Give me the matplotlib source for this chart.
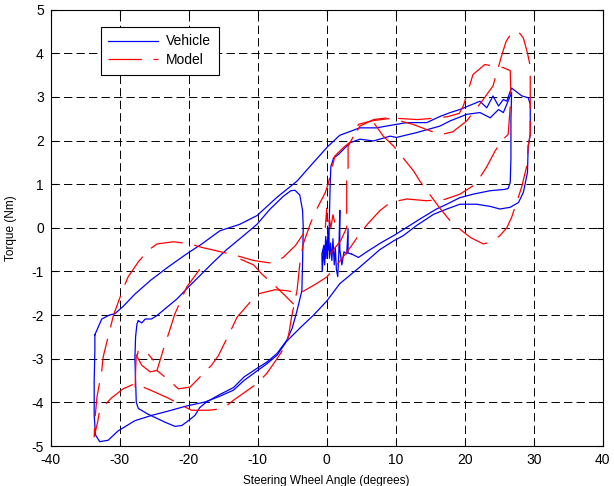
import matplotlib
matplotlib.use("Agg")
import matplotlib.pyplot as plt

plt.rcParams['font.family'] = ['Liberation Sans', 'DejaVu Sans']
plt.rcParams['lines.scale_dashes'] = False

# Vehicle (measured) - pieces of the trace, (angle deg, torque Nm)
veh_outer = [(-33.6, -2.45), (-32.6, -2.09), (-31.5, -2.0), (-30.7, -1.97), (-29.5, -1.8),
             (-27.8, -1.52), (-25.5, -1.2), (-23.0, -0.9), (-20.5, -0.62), (-18.1, -0.37),
             (-15.5, -0.07), (-12.6, 0.08), (-10.1, 0.28), (-7.2, 0.7), (-4.3, 1.07),
             (-1.9, 1.5), (0.2, 1.87), (1.9, 2.12), (4.8, 2.29), (7.2, 2.29), (10.1, 2.37),
             (11.6, 2.41), (14.5, 2.41), (16.4, 2.55), (17.9, 2.64), (19.3, 2.71), (22.2, 2.9),
             (23.2, 2.75), (24.1, 3.02), (24.9, 2.79), (25.6, 2.94), (26.1, 2.9), (26.6, 3.13),
             (26.8, 3.2), (28.3, 3.02), (29.2, 2.98), (29.5, 2.83), (29.5, 2.14), (29.2, 1.87),
             (29.1, 1.27), (28.5, 0.81), (27.8, 0.58), (26.6, 0.47), (25.1, 0.43), (23.7, 0.49),
             (21.7, 0.54), (19.3, 0.54), (17.4, 0.43), (15.5, 0.31), (13.0, 0.05), (11.1, -0.18),
             (9.7, -0.3), (7.7, -0.5), (4.8, -0.9), (1.9, -1.28), (0.0, -1.68), (-1.9, -2.0),
             (-3.9, -2.3), (-5.8, -2.6), (-7.2, -2.92), (-8.7, -3.12), (-10.1, -3.28),
             (-12.0, -3.5), (-13.5, -3.72), (-15.5, -3.86), (-17.6, -3.99), (-20.5, -4.09),
             (-22.5, -4.18), (-25.4, -4.3), (-27.8, -4.42), (-30.2, -4.65), (-31.7, -4.87),
             (-32.9, -4.9), (-33.5, -4.75), (-33.7, -4.3), (-33.7, -3.5), (-33.6, -2.8),
             (-33.6, -2.45)]

veh_inner_left = [(-27.3, -2.13), (-26.8, -2.18), (-26.3, -2.09), (-25.4, -2.09), (-24.6, -2.01),
                  (-23.0, -1.8), (-21.7, -1.63), (-20.0, -1.35), (-18.4, -1.1), (-16.5, -0.8),
                  (-14.5, -0.5), (-12.2, -0.2), (-10.1, 0.08), (-8.2, 0.43), (-6.3, 0.72),
                  (-5.2, 0.85), (-4.6, 0.86), (-3.9, 0.75), (-3.5, 0.4), (-3.4, 0.0),
                  (-3.5, -0.8), (-3.6, -1.44), (-4.3, -1.9), (-5.0, -2.3), (-5.8, -2.58),
                  (-7.2, -2.88), (-8.7, -3.08), (-10.1, -3.22), (-12.0, -3.42), (-13.5, -3.66),
                  (-15.5, -3.82), (-17.5, -4.0), (-18.4, -4.12), (-19.1, -4.3), (-20.3, -4.45),
                  (-21.0, -4.53), (-22.0, -4.55), (-23.5, -4.45), (-25.9, -4.27), (-27.3, -4.14),
                  (-27.6, -4.0), (-27.7, -3.5), (-27.8, -3.0), (-27.7, -2.5), (-27.5, -2.2),
                  (-27.3, -2.13)]

veh_inner_right = [(0.3, -0.5), (0.4, 0.3), (0.5, 1.0), (0.6, 1.4), (1.0, 1.6), (1.7, 1.68),
                   (3.4, 1.95), (4.8, 2.03), (6.8, 1.99), (9.2, 2.1), (10.1, 2.07), (13.0, 2.18),
                   (16.4, 2.33), (17.9, 2.45), (20.3, 2.6), (22.2, 2.64), (23.7, 2.52),
                   (24.9, 2.71), (25.6, 2.64), (26.1, 2.83), (26.8, 3.1), (26.7, 2.5),
                   (26.7, 1.6), (26.6, 1.04), (26.3, 0.9), (25.8, 0.88), (23.7, 0.85),
                   (21.2, 0.77), (19.3, 0.69), (17.4, 0.54), (15.9, 0.43), (13.5, 0.2),
                   (11.6, 0.01), (9.7, -0.18), (8.0, -0.33), (6.0, -0.53), (4.6, -0.68),
                   (3.6, -0.6)]

veh_noise = [(3.6, -0.6), (3.1, -0.58), (3.1, -0.02), (2.9, -0.6), (2.5, -0.55), (2.2, -0.85),
             (1.9, -0.5), (1.9, 0.4), (1.75, -0.6), (1.6, -1.12), (1.4, -0.95), (1.25, -0.45),
             (1.1, -0.85), (0.9, -0.25), (0.75, -0.75), (0.55, -0.35), (0.4, -0.7), (0.2, 0.0),
             (0.05, -0.55), (-0.15, -0.2), (-0.3, -0.85), (-0.45, -0.5), (-0.65, -1.0),
             (-0.7, -0.6), (-0.4, -0.4), (-0.1, -0.7), (0.1, -0.3), (0.3, -0.5)]

# Model (simulated)
mod_outer = [(-3.4, -0.14), (-4.5, -0.4), (-6.3, -0.68), (-8.0, -0.81), (-10.6, -0.75),
             (-13.0, -0.64), (-15.9, -0.53), (-18.1, -0.45), (-19.8, -0.37), (-22.2, -0.32),
             (-24.6, -0.37), (-25.9, -0.52), (-27.3, -0.78), (-28.8, -1.13), (-29.5, -1.4),
             (-30.9, -2.0), (-31.4, -2.32), (-32.4, -2.96), (-32.6, -3.27), (-33.3, -3.88),
             (-33.6, -4.41), (-33.7, -4.79), (-33.2, -4.45), (-32.9, -4.18), (-31.2, -3.9),
             (-29.5, -3.69), (-27.8, -3.57), (-25.4, -3.73), (-23.0, -3.9), (-21.0, -4.07),
             (-19.6, -4.18), (-17.0, -4.18), (-15.0, -4.14), (-13.5, -3.95), (-11.7, -3.75),
             (-10.1, -3.57), (-8.7, -3.34), (-7.2, -3.0), (-5.8, -2.66), (-5.4, -2.35),
             (-5.1, -2.05), (-4.3, -1.44), (-3.9, -0.83), (-3.4, -0.37), (-2.4, 0.08),
             (-1.7, 0.35), (-0.2, 0.81), (0.2, 1.0), (1.2, 1.65), (2.5, 1.85), (3.6, 1.99),
             (4.8, 2.33), (6.8, 2.48), (8.9, 2.52), (11.0, 2.5), (13.2, 2.48), (16.4, 2.52),
             (17.6, 2.55), (19.2, 2.62), (19.8, 2.79), (20.5, 3.15), (21.2, 3.51), (22.9, 3.74),
             (25.6, 3.67), (26.6, 3.6), (26.7, 3.0), (26.3, 2.14), (25.4, 2.0), (24.4, 1.76),
             (23.2, 1.4), (22.2, 1.15), (21.2, 0.96), (19.3, 0.77), (17.1, 0.65), (14.5, 0.62),
             (11.6, 0.66), (9.2, 0.58), (7.7, 0.39), (6.0, 0.1), (4.6, -0.18), (3.6, -0.41),
             (1.4, -0.87), (0.0, -1.13), (-1.7, -1.3), (-3.9, -1.5), (-5.8, -1.44),
             (-7.5, -1.42), (-10.1, -1.52), (-13.0, -2.05), (-13.8, -2.32), (-15.7, -2.93),
             (-16.7, -3.15), (-19.8, -3.65), (-21.5, -3.69), (-23.2, -3.45), (-24.6, -3.27),
             (-23.7, -2.8), (-22.7, -2.32), (-22.0, -1.97), (-20.3, -1.36), (-18.4, -0.95)]

mod_right = [(0.5, -0.6), (2.0, -0.3), (2.9, 0.0), (2.9, 0.39), (2.9, 1.07), (3.1, 1.34),
             (3.1, 1.87), (3.9, 2.1), (4.6, 2.37), (6.5, 2.45), (8.9, 2.5), (10.6, 2.45),
             (12.5, 2.37), (15.0, 2.22), (16.7, 2.14), (18.3, 2.2), (20.3, 2.45), (22.5, 2.9),
             (24.1, 3.25), (25.4, 3.97), (26.0, 4.27), (26.8, 4.47), (27.8, 4.49), (28.5, 4.35),
             (29.1, 4.0), (29.5, 3.7), (29.5, 3.13), (29.5, 2.14), (29.2, 1.87), (29.0, 1.42),
             (28.3, 0.96), (28.0, 0.81), (26.8, 0.24), (26.1, 0.0), (25.1, -0.18), (23.7, -0.33),
             (22.7, -0.37), (20.8, -0.22), (19.3, -0.03), (18.3, 0.08), (16.4, 0.45),
             (13.5, 1.07), (12.6, 1.3), (9.7, 1.87), (8.2, 2.1), (6.8, 2.41), (5.5, 2.5)]

mod_cross = [(-12.5, -0.72), (-10.6, -0.85), (-9.4, -1.06), (-7.5, -1.33), (-5.8, -1.59),
             (-4.8, -1.75)]

mod_hook = [(-24.6, -3.27), (-25.6, -3.3), (-26.8, -3.15), (-27.5, -2.95), (-27.3, -2.81),
            (-26.6, -2.8), (-25.9, -2.89), (-25.1, -3.04)]

mod_edge = [(-27.6, -2.9), (-27.7, -3.3), (-27.8, -3.9)]

mod_zero = [(-0.2, 0.0), (0.0, 0.45), (0.1, 0.0), (0.4, 0.2), (0.6, 0.0), (0.9, 0.3), (1.2, 0.1)]

x_ticks = [-40, -30, -20, -10, 0, 10, 20, 30, 40]
y_ticks = [-5, -4, -3, -2, -1, 0, 1, 2, 3, 4, 5]

fig = plt.figure(figsize=(6.14, 4.86), dpi=100)
ax = fig.add_axes([0.0826, 0.0823, 0.899, 0.898])

vehicle = [veh_outer, veh_inner_left, veh_inner_right, veh_noise]
for i, piece in enumerate(vehicle):
    xs, ys = zip(*piece)
    ax.plot(xs, ys, color='b', lw=0.9, label='Vehicle' if i == 0 else None)

dash = (0, (24, 8.5))
model = [mod_outer, mod_right, mod_cross, mod_hook, mod_edge, mod_zero]
for i, piece in enumerate(model):
    xs, ys = zip(*piece)
    ax.plot(xs, ys, color='r', lw=0.9, linestyle=dash, label='Model' if i == 0 else None)

ax.set_xlim(-40, 40)
ax.set_ylim(-5, 5)
ax.set_xticks(x_ticks)
ax.set_yticks(y_ticks)
ax.set_xticklabels([str(t) for t in x_ticks])
ax.set_yticklabels([str(t) for t in y_ticks])
ax.tick_params(direction='in', top=True, right=True, length=4, labelsize=10, pad=5)
ax.grid(True, color='k', linestyle=(0, (6, 3)), lw=0.7)
for s in ax.spines.values():
    s.set_linewidth(0.8)

ax.set_xlabel('Steering Wheel Angle (degrees)', fontsize=8.5, labelpad=6)
ax.set_ylabel('Torque (Nm)', fontsize=8.5, labelpad=10)

leg = ax.legend(loc='upper left', bbox_to_anchor=(0.0906, 0.9606), borderaxespad=0,
                fontsize=10, handlelength=3.6, handletextpad=0.55, borderpad=0.55,
                labelspacing=0.35, fancybox=False, framealpha=1)
leg.get_frame().set_edgecolor('k')
leg.get_frame().set_linewidth(0.8)

fig.savefig('out.png', dpi=100)
